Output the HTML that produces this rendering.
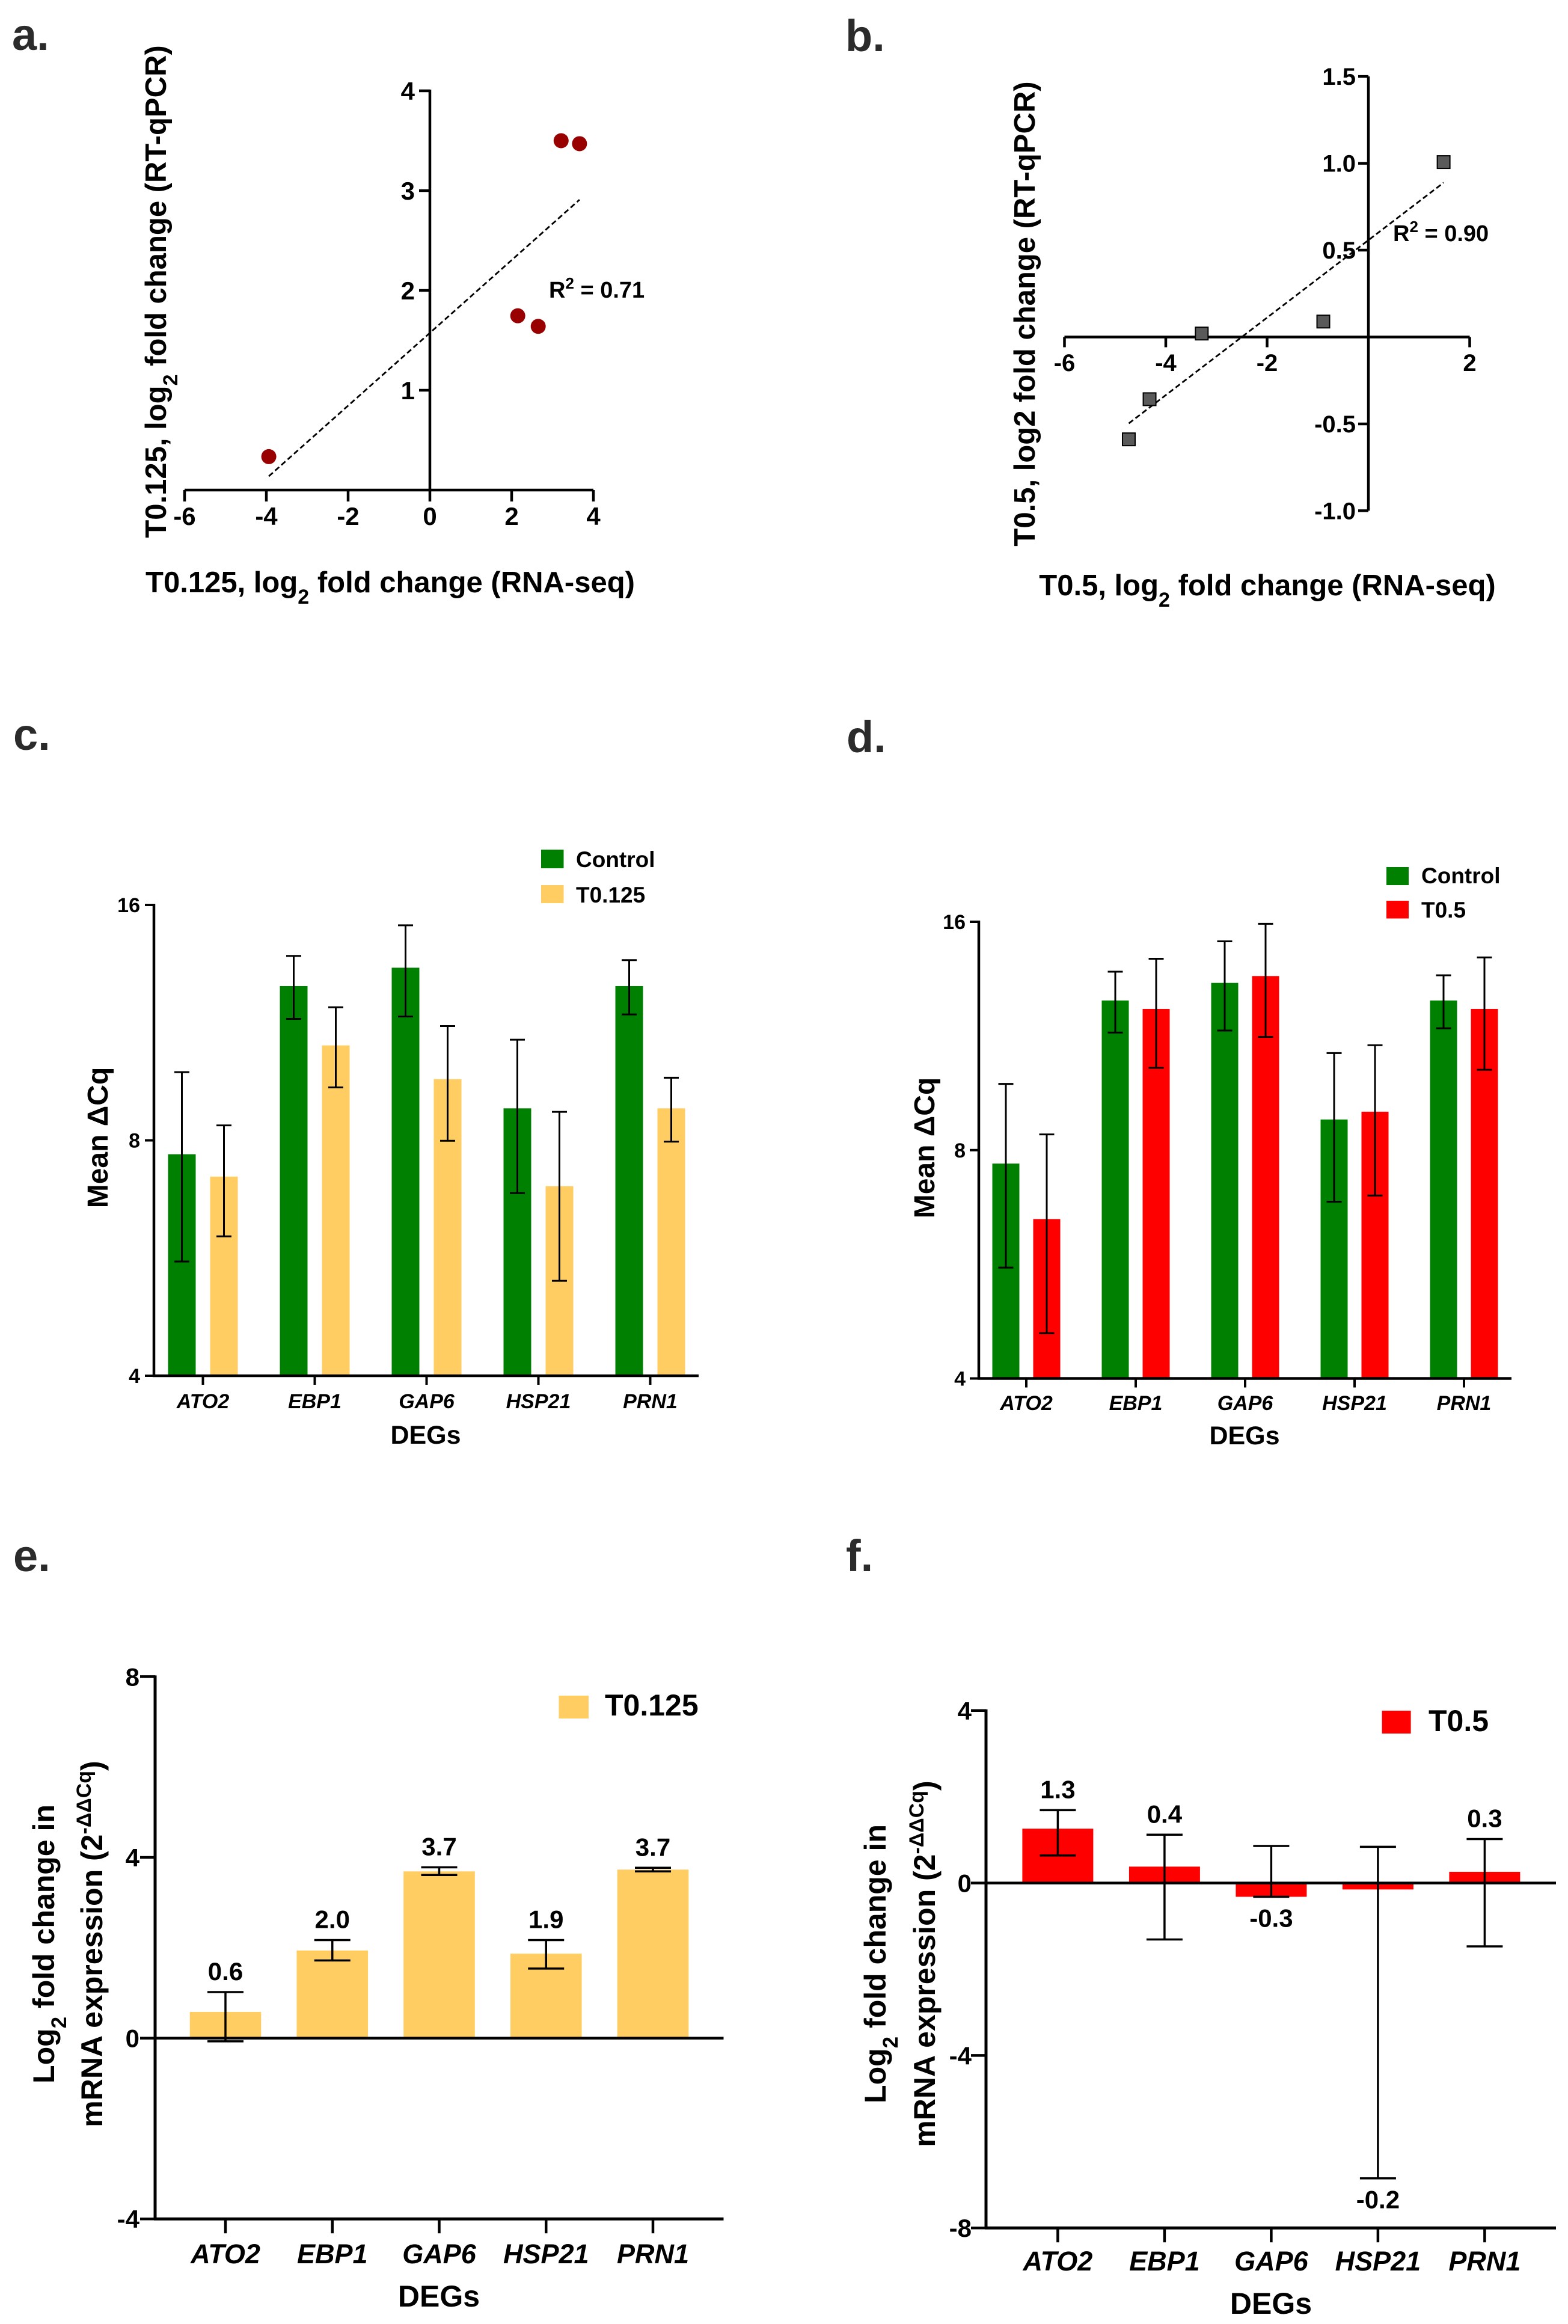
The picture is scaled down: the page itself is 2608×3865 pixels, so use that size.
<!DOCTYPE html>
<html><head><meta charset="utf-8">
<style>
html,body{margin:0;padding:0;background:#fff;}
svg{display:block;}
text{font-family:"Liberation Sans",Arial,sans-serif;font-weight:bold;fill:#000;}
.pl{font-size:74px;fill:#2b2b2b;}
</style></head>
<body>
<svg id="fig" xmlns="http://www.w3.org/2000/svg" width="2608" height="3865" viewBox="0 0 2608 3865">
<rect x="0" y="0" width="2608" height="3865" fill="#fff"/>
<!-- panel letters -->
<text class="pl" x="20" y="83">a.</text>
<text class="pl" x="1406" y="85">b.</text>
<text class="pl" x="22" y="1247">c.</text>
<text class="pl" x="1408" y="1251">d.</text>
<text class="pl" x="22" y="2613">e.</text>
<text class="pl" x="1407" y="2613">f.</text>

<!-- panel a titles -->
<text transform="translate(276,485) rotate(-90)" text-anchor="middle" font-size="49">T0.125, log<tspan baseline-shift="sub" font-size="34">2</tspan> fold change (RT-qPCR)</text>
<text x="649" y="985" text-anchor="middle" font-size="49">T0.125, log<tspan baseline-shift="sub" font-size="34">2</tspan> fold change (RNA-seq)</text>
<text x="913" y="495" font-size="38">R<tspan baseline-shift="super" font-size="26">2</tspan> = 0.71</text>

<!-- panel b titles -->
<text transform="translate(1721,522) rotate(-90)" text-anchor="middle" font-size="49">T0.5, log2 fold change (RT-qPCR)</text>
<text x="2108" y="990" text-anchor="middle" font-size="49">T0.5, log<tspan baseline-shift="sub" font-size="34">2</tspan> fold change (RNA-seq)</text>
<text x="2317" y="401" font-size="38">R<tspan baseline-shift="super" font-size="26">2</tspan> = 0.90</text>

<!-- panel c titles/legend -->
<text transform="translate(179,1892) rotate(-90)" text-anchor="middle" font-size="48">Mean ΔCq</text>
<text x="708" y="2401" text-anchor="middle" font-size="43">DEGs</text>
<rect x="900" y="1413" width="37.5" height="31" fill="#008000"/>
<text x="958" y="1442" font-size="37">Control</text>
<rect x="900" y="1472" width="37.5" height="30" fill="#ffcd62"/>
<text x="958" y="1501" font-size="37">T0.125</text>

<!-- panel d titles/legend -->
<text transform="translate(1554,1909) rotate(-90)" text-anchor="middle" font-size="48">Mean ΔCq</text>
<text x="2070" y="2402" text-anchor="middle" font-size="43">DEGs</text>
<rect x="2306" y="1442" width="37" height="30" fill="#008000"/>
<text x="2364" y="1469" font-size="37">Control</text>
<rect x="2306" y="1498" width="37" height="29.5" fill="#ff0000"/>
<text x="2364" y="1526" font-size="37">T0.5</text>

<!-- panel e titles/legend -->
<text transform="translate(90,3233) rotate(-90)" text-anchor="middle" font-size="50">Log<tspan baseline-shift="sub" font-size="35">2</tspan> fold change in</text>
<text transform="translate(170,3233) rotate(-90)" text-anchor="middle" font-size="50">mRNA expression (2<tspan baseline-shift="super" font-size="34">-ΔΔCq</tspan>)</text>
<text x="730" y="3836" text-anchor="middle" font-size="50">DEGs</text>
<rect x="929.5" y="2820" width="49.5" height="38" fill="#ffcd62"/>
<text x="1006" y="2853" font-size="50">T0.125</text>

<!-- panel f titles/legend -->
<text transform="translate(1473,3266) rotate(-90)" text-anchor="middle" font-size="50">Log<tspan baseline-shift="sub" font-size="35">2</tspan> fold change in</text>
<text transform="translate(1555,3266) rotate(-90)" text-anchor="middle" font-size="50">mRNA expression (2<tspan baseline-shift="super" font-size="34">-ΔΔCq</tspan>)</text>
<text x="2114" y="3848" text-anchor="middle" font-size="50">DEGs</text>
<rect x="2298.6" y="2845" width="48" height="38" fill="#ff0000"/>
<text x="2376" y="2879" font-size="50">T0.5</text>
</svg>

<script>
// ---------- data ----------
const aRnaSeq = [-3.94, 2.15, 2.65, 3.21, 3.66];
const aQpcr = [0.335, 1.746, 1.64, 3.50, 3.47];
const aXTicks = [-6, -4, -2, 0, 2, 4];
const aYTicks = [1, 2, 3, 4];

const bRnaSeq = [-4.73, -4.32, -3.29, -0.89, 1.485];
const bQpcr = [-0.589, -0.358, 0.02, 0.089, 1.007];
const bXTicks = [-6, -4, -2, 2];
const bYTicks = [1.5, 1.0, 0.5, -0.5, -1.0];
const bYTickLabels = ['1.5', '1.0', '0.5', '-0.5', '-1.0'];

const genes = ['ATO2', 'EBP1', 'GAP6', 'HSP21', 'PRN1'];
const logTicks = [16, 8, 4];

const cControl = [7.68, 12.6, 13.3, 8.79, 12.6];
const cControlLo = [5.6, 11.44, 11.52, 6.85, 11.59];
const cControlHi = [9.78, 13.77, 15.07, 10.76, 13.6];
const cTreat = [7.19, 10.58, 9.58, 6.99, 8.79];
const cTreatLo = [6.03, 9.35, 7.99, 5.29, 7.97];
const cTreatHi = [8.36, 11.84, 11.2, 8.7, 9.62];

const dControl = [7.68, 12.6, 13.29, 8.78, 12.6];
const dControlLo = [5.6, 11.43, 11.5, 6.84, 11.58];
const dControlHi = [9.78, 13.75, 15.08, 10.74, 13.6];
const dTreat = [6.49, 12.28, 13.57, 8.99, 12.28];
const dTreatLo = [4.59, 10.27, 11.28, 6.97, 10.21];
const dTreatHi = [8.39, 14.3, 15.9, 11.0, 14.36];

const eValues = [0.58, 1.94, 3.69, 1.87, 3.73];
const eLo = [-0.07, 1.72, 3.61, 1.54, 3.69];
const eHi = [1.02, 2.17, 3.78, 2.17, 3.77];
const eLabels = ['0.6', '2.0', '3.7', '1.9', '3.7'];
const eTicks = [8, 4, 0, -4];

const fValues = [1.26, 0.38, -0.32, -0.15, 0.26];
const fLo = [0.64, -1.31, -0.32, -6.85, -1.47];
const fHi = [1.69, 1.12, 0.86, 0.84, 1.02];
const fLabels = ['1.3', '0.4', '-0.3', '-0.2', '0.3'];
const fTicks = [4, 0, -4, -8];

// ---------- helpers ----------
const NS = 'http://www.w3.org/2000/svg';
const svg = document.getElementById('fig');
function mk(tag, attrs, parent) {
  const e = document.createElementNS(NS, tag);
  for (const k in attrs) e.setAttribute(k, attrs[k]);
  (parent || svg).appendChild(e);
  return e;
}
function line(x1, y1, x2, y2, w, g) {
  return mk('line', {x1: x1, y1: y1, x2: x2, y2: y2, stroke: '#000', 'stroke-width': w, 'stroke-linecap': 'butt'}, g);
}
function label(str, x, y, size, anchor, g, italic) {
  const t = mk('text', {x: x, y: y, 'font-size': size, 'text-anchor': anchor}, g);
  if (italic) t.setAttribute('font-style', 'italic');
  t.textContent = str;
  return t;
}
function fit(xs, ys) {
  const n = xs.length;
  const mx = xs.reduce((a, b) => a + b, 0) / n, my = ys.reduce((a, b) => a + b, 0) / n;
  let sxx = 0, sxy = 0;
  for (let i = 0; i < n; i++) { sxx += (xs[i] - mx) * (xs[i] - mx); sxy += (xs[i] - mx) * (ys[i] - my); }
  const m = sxy / sxx;
  return {m: m, b: my - m * mx};
}

// ---------- panel a ----------
(function () {
  const g = mk('g', {});
  
  
  const X = v => 715 + v * 68, Y = v => 815 - v * 166;
  const ax = line(X(-6), Y(0), X(4), Y(0), 4.5, g);
  
  
  const ay = line(X(0), Y(0) + 2, X(0), Y(4) - 2, 4.5, g);
  
  
  aXTicks.forEach(t => {
    const tk = line(X(t), Y(0), X(t), Y(0) + 19, 4.5, g);
    
    
    const tl = label(String(t), X(t), 873, 42, 'middle', g);
    
    
  });
  aYTicks.forEach(t => {
    const tk = line(X(0) - 18, Y(t), X(0), Y(t), 4.5, g);
    
    
    const tl = label(String(t), 690, Y(t) + 15, 42, 'end', g);
    
    
  });
  const r = fit(aRnaSeq, aQpcr);
  const x0 = Math.min(...aRnaSeq), x1 = Math.max(...aRnaSeq);
  const rl = line(X(x0), Y(r.m * x0 + r.b), X(x1), Y(r.m * x1 + r.b), 2.8, g);
  rl.setAttribute('stroke-dasharray', '9 5');
  
  
  aRnaSeq.forEach((v, i) => {
    const c = mk('circle', {cx: X(v), cy: Y(aQpcr[i]), r: 12.5, fill: '#990000'}, g);
    
    
  });
})();

// ---------- panel b ----------
(function () {
  const g = mk('g', {});
  
  
  const X = v => 2276 + v * 84.25, Y = v => 560.5 - v * 288.9;
  const ax = line(X(-6), Y(0), X(2), Y(0), 4.5, g);
  
  
  const ay = line(X(0), Y(-1.0), X(0), Y(1.5), 4.5, g);
  
  
  bXTicks.forEach(t => {
    const tk = line(X(t), Y(0), X(t), Y(0) + 17, 4.5, g);
    
    
    const tl = label(String(t), X(t), 617, 40, 'middle', g);
    
    
  });
  bYTicks.forEach((t, i) => {
    const tk = line(X(0) - 17, Y(t), X(0), Y(t), 4.5, g);
    
    
    const tl = label(bYTickLabels[i], 2255, Y(t) + 14, 40, 'end', g);
    
    
  });
  const r = fit(bRnaSeq, bQpcr);
  const x0 = Math.min(...bRnaSeq), x1 = Math.max(...bRnaSeq);
  const rl = line(X(x0), Y(r.m * x0 + r.b), X(x1), Y(r.m * x1 + r.b), 2.8, g);
  rl.setAttribute('stroke-dasharray', '9 5');
  
  
  bRnaSeq.forEach((v, i) => {
    const s = mk('rect', {x: X(v) - 10.5, y: Y(bQpcr[i]) - 10.5, width: 21, height: 21, fill: '#5a5a5a', stroke: '#000', 'stroke-width': 2}, g);
    
    
  });
})();

// ---------- panels c, d (grouped log bars) ----------
function grouped(cfg) {
  const g = mk('g', {});
  
  
  const Y = v => cfg.y4 - Math.log2(v / 4) * cfg.perDbl;
  const X = i => cfg.tick0 + i * cfg.step;
  const series = [
    {v: cfg.a, lo: cfg.aLo, hi: cfg.aHi, col: '#008000', off: -cfg.off},
    {v: cfg.b, lo: cfg.bLo, hi: cfg.bHi, col: cfg.bCol, off: cfg.off}
  ];
  series.forEach(s => {
    s.v.forEach((v, i) => {
      const cx = X(i) + s.off;
      const b = mk('rect', {x: cx - cfg.bw / 2, y: Y(v), width: cfg.bw, height: Y(4) - Y(v), fill: s.col}, g);
      
      
      const eb = mk('g', {}, g);
      
      
      line(cx, Y(s.hi[i]), cx, Y(s.lo[i]), 3, eb);
      line(cx - 12.5, Y(s.hi[i]), cx + 12.5, Y(s.hi[i]), 3, eb);
      line(cx - 12.5, Y(s.lo[i]), cx + 12.5, Y(s.lo[i]), 3, eb);
    });
  });
  const ax = line(cfg.axisX - 2, Y(4), cfg.axisEnd, Y(4), 4.5, g);
  
  
  const ay = line(cfg.axisX, Y(4), cfg.axisX, Y(16) - 2, 4.5, g);
  
  
  logTicks.forEach(t => {
    const tk = line(cfg.axisX - 15, Y(t), cfg.axisX, Y(t), 4, g);
    
    
    const tl = label(String(t), cfg.tickRight, Y(t) + 12, 34, 'end', g);
    
    
  });
  genes.forEach((n, i) => {
    const tk = line(X(i), Y(4), X(i), Y(4) + 15, 4, g);
    
    
    const tl = label(n, X(i), cfg.catY, 34, 'middle', g, true);
    
    
  });
}
grouped({name: 'panel-c-bars', y4: 2288, perDbl: 391.5, tick0: 337.5, step: 186, off: 35, bw: 46,
  a: cControl, aLo: cControlLo, aHi: cControlHi, b: cTreat, bLo: cTreatLo, bHi: cTreatHi, bCol: '#ffcd62',
  axisX: 256, axisEnd: 1162, tickRight: 233, catY: 2342});
grouped({name: 'panel-d-bars', y4: 2292.5, perDbl: 379.75, tick0: 1707, step: 182, off: 34, bw: 45,
  a: dControl, aLo: dControlLo, aHi: dControlHi, b: dTreat, bLo: dTreatLo, bHi: dTreatHi, bCol: '#ff0000',
  axisX: 1628, axisEnd: 2514, tickRight: 1606, catY: 2345});

// ---------- panels e, f (fold change bars) ----------
function fold(cfg) {
  const g = mk('g', {});
  
  
  const Y = v => cfg.y0 - v * cfg.per;
  const X = i => cfg.tick0 + i * cfg.step;
  const ymin = Math.min(...cfg.ticks), ymax = Math.max(...cfg.ticks);
  cfg.vals.forEach((v, i) => {
    const cx = X(i);
    const b = mk('rect', {x: cx - cfg.bw / 2, y: Math.min(Y(v), Y(0)), width: cfg.bw, height: Math.abs(Y(v) - Y(0)), fill: cfg.col}, g);
    
    
    const eb = mk('g', {}, g);
    
    
    line(cx, Y(cfg.hi[i]), cx, Y(cfg.lo[i]), 3.5, eb);
    line(cx - 30, Y(cfg.hi[i]), cx + 30, Y(cfg.hi[i]), 3.5, eb);
    line(cx - 30, Y(cfg.lo[i]), cx + 30, Y(cfg.lo[i]), 3.5, eb);
    const ly = v < 0 ? Y(Math.min(cfg.lo[i], v)) + 50 : Y(Math.max(cfg.hi[i], v)) - 20;
    const vl = label(cfg.labels[i], cx, ly, 42, 'middle', g);
    
    
  });
  const z = line(cfg.axisX, Y(0), cfg.axisEnd, Y(0), 4.5, g);
  
  
  const ax = line(cfg.axisX - 2, Y(ymin), cfg.axisEnd, Y(ymin), 5, g);
  
  
  const ay = line(cfg.axisX, Y(ymin), cfg.axisX, Y(ymax) - 2, 5, g);
  
  
  cfg.ticks.forEach(t => {
    const tk = line(cfg.axisX - 25, Y(t), cfg.axisX, Y(t), 4.5, g);
    
    
    const tl = label(String(t), cfg.tickRight, Y(t) + 15, 42, 'end', g);
    
    
  });
  genes.forEach((n, i) => {
    const tk = line(X(i), Y(ymin), X(i), Y(ymin) + 24, 4.5, g);
    
    
    const tl = label(n, X(i), cfg.catY, 45, 'middle', g, true);
    
    
  });
}
fold({name: 'panel-e-bars', y0: 3389.6, per: 75.15, tick0: 375, step: 177.75, bw: 118.6, col: '#ffcd62',
  vals: eValues, lo: eLo, hi: eHi, labels: eLabels, ticks: eTicks,
  axisX: 258, axisEnd: 1203.5, tickRight: 232, catY: 3764});
fold({name: 'panel-f-bars', y0: 3131.6, per: 71.7, tick0: 1759.4, step: 177.5, bw: 118, col: '#ff0000',
  vals: fValues, lo: fLo, hi: fHi, labels: fLabels, ticks: fTicks,
  axisX: 1640, axisEnd: 2588, tickRight: 1616, catY: 3776});
</script>
</body></html>
